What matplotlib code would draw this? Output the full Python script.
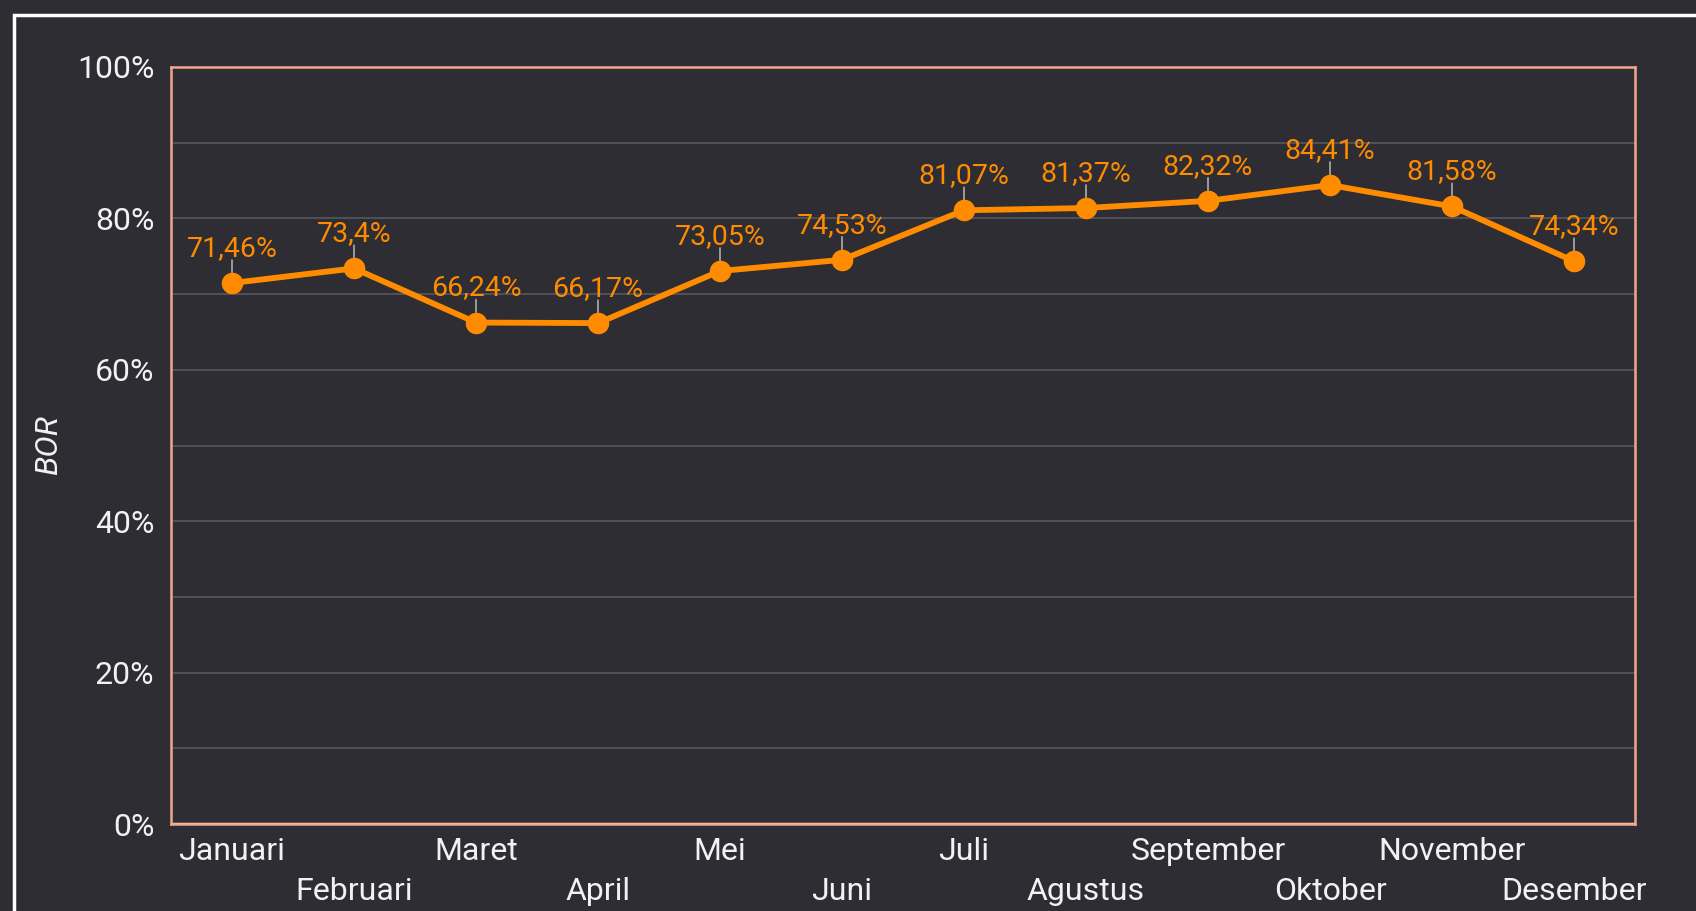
import numpy as np
import matplotlib.pyplot as plt
import matplotlib.patches as patches
from matplotlib.transforms import ScaledTranslation, offset_copy

plt.rcParams['font.family'] = ['Roboto', 'DejaVu Sans']

bulan = ['Januari', 'Februari', 'Maret', 'April', 'Mei', 'Juni', 'Juli',
         'Agustus', 'September', 'Oktober', 'November', 'Desember']
bor = [71.46, 73.4, 66.24, 66.17, 73.05, 74.53, 81.07, 81.37, 82.32, 84.41, 81.58, 74.34]
label_bor = ['71,46%', '73,4%', '66,24%', '66,17%', '73,05%', '74,53%', '81,07%',
             '81,37%', '82,32%', '84,41%', '81,58%', '74,34%']

bg = '#2e2d33'
oranye = '#ff8c00'
teks = '#f2f2f2'

fig = plt.figure(figsize=(16.96, 9.11), dpi=100, facecolor=bg)
ax = fig.add_axes([171 / 1696, 1 - 824 / 911, (1635 - 171) / 1696, (824 - 67) / 911])
ax.set_facecolor(bg)

# bingkai putih di luar
fig.patches.append(patches.Rectangle((13.5 / 1696, -0.2), 1.2, 0.2 + (911 - 14.5) / 911,
                                     transform=fig.transFigure, fill=False,
                                     edgecolor='white', linewidth=2.5))

x = np.arange(len(bulan))
ax.set_xlim(-0.5, len(bulan) - 0.5)
ax.set_ylim(0, 100)

for y in range(10, 100, 10):
    ax.axhline(y, color='#505057', linewidth=1.4, zorder=1)
ax.axhline(0, color='#fbe3da', linewidth=2.5, zorder=2)

ax.plot(x, bor, color=oranye, linewidth=4.2, marker='o', markersize=14.5, zorder=4)

# garis penunjuk dan label nilai
for i, v in enumerate(bor):
    t1 = offset_copy(ax.transData, fig=fig, x=0, y=7.5, units='points')
    t2 = offset_copy(ax.transData, fig=fig, x=0, y=16.5, units='points')
    ax.annotate('', xy=(i, v), xycoords=t1, xytext=(i, v), textcoords=t2,
                arrowprops=dict(arrowstyle='-', color='#9a9a9a', lw=1.4,
                                shrinkA=0, shrinkB=0))
    ax.annotate(label_bor[i], xy=(i, v), xytext=(0, 19.5), textcoords='offset points',
                ha='center', va='baseline', color=oranye, fontsize=20.5, zorder=5)

ax.set_yticks(range(0, 101, 20))
ax.set_yticklabels([f'{y}%' for y in range(0, 101, 20)])
ax.set_xticks(x)
ax.set_xticklabels(bulan)
ax.tick_params(axis='both', length=0, colors=teks, labelsize=23)
ax.tick_params(axis='y', pad=12)
ax.tick_params(axis='x', pad=9)
for j, lbl in enumerate(ax.get_xticklabels()):
    if j % 2 == 1:
        lbl.set_transform(lbl.get_transform() + ScaledTranslation(0, -0.41, fig.dpi_scale_trans))

for s in ax.spines.values():
    s.set_color('#f4a68c')
    s.set_linewidth(1.8)

ax.set_ylabel('BOR', color=teks, fontsize=23, fontstyle='italic')
ax.yaxis.set_label_coords(-108 / 1464, 0.5)

fig.savefig('out.png', dpi=100, facecolor=bg)
